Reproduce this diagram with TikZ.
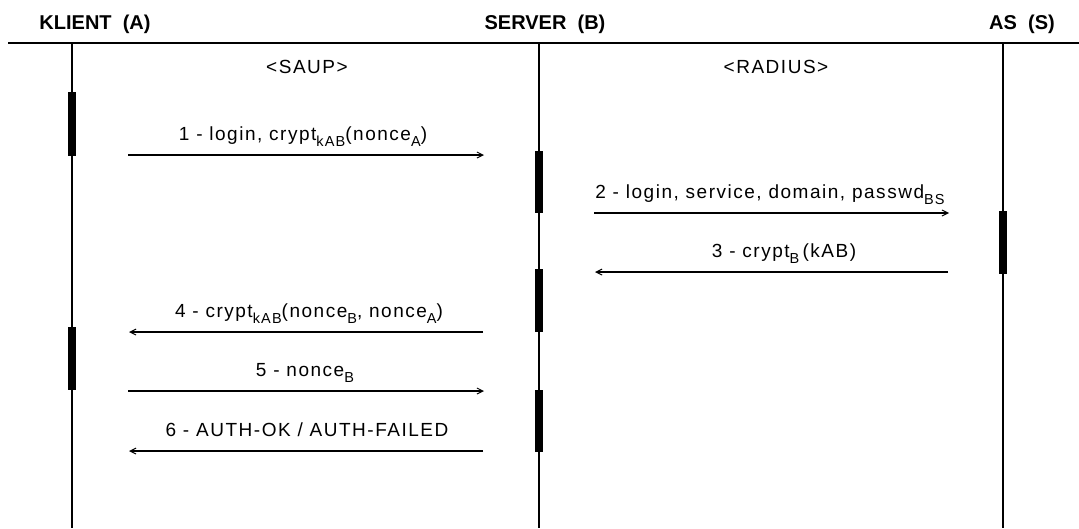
\documentclass[tikz,border=0pt]{standalone}
\usepackage{fontspec}
\setmainfont{Liberation Sans}
\newfontfamily\lblfont[LetterSpace=8]{Liberation Sans}
\usetikzlibrary{arrows.meta}
\newcommand{\sbs}[1]{\raisebox{-6pt}{\fontsize{14.5}{14}\selectfont #1}}
\tikzset{
  life/.style={line width=1.3pt},
  act/.style={fill=black, draw=none},
  msg/.style={line width=1.1pt, -{Straight Barb[length=6pt,width=6pt,line width=1pt]}},
  lbl/.style={font=\lblfont\fontsize{19}{22}\selectfont, inner sep=0pt, anchor=base},
  hdr/.style={font=\fontsize{20}{22}\selectfont\bfseries, inner sep=0pt, anchor=base},
}
\begin{document}
\begin{tikzpicture}[x=1pt,y=-1pt]
\useasboundingbox (0,0) rectangle (1079,528);
% headers
\node[hdr] (hA) at (95,29) {KLIENT\ \ (A)};
\node[hdr] (hB) at (545,29) {SERVER\ \ (B)};
\node[hdr] (hS) at (1022,29) {AS\ \ (S)};
\coordinate (hl) at (8,43);
\coordinate (hr) at (1079,43);
\draw[life] (hl) -- (hr);
% lifelines
\coordinate (At) at (72,43); \coordinate (Ab) at (72,528);
\coordinate (Bt) at (539,43); \coordinate (Bb) at (539,528);
\coordinate (St) at (1003,43); \coordinate (Sb) at (1003,528);
\draw[life] (At) -- (Ab);
\draw[life] (Bt) -- (Bb);
\draw[life] (St) -- (Sb);
% activation bars
\fill[act] (68,92) rectangle (76,156);
\fill[act] (68,327) rectangle (76,390);
\fill[act] (535,151) rectangle (543,213);
\fill[act] (535,269) rectangle (543,332);
\fill[act] (535,390) rectangle (543,452);
\fill[act] (999,211) rectangle (1007,274);
% protocol labels
\node[lbl] (saup) at (307,73) {<SAUP>};
\node[lbl] (rad) at (776,73) {<RADIUS>};
% messages
\coordinate (m1a) at (128,155); \coordinate (m1b) at (484,155);
\coordinate (m2a) at (594,213); \coordinate (m2b) at (949,213);
\coordinate (m3a) at (948,272); \coordinate (m3b) at (595,272);
\coordinate (m4a) at (483,332); \coordinate (m4b) at (129,332);
\coordinate (m5a) at (128,391); \coordinate (m5b) at (484,391);
\coordinate (m6a) at (483,451); \coordinate (m6b) at (129,451);
\draw[msg] (m1a) -- (m1b);
\draw[msg] (m2a) -- (m2b);
\draw[msg] (m3a) -- (m3b);
\draw[msg] (m4a) -- (m4b);
\draw[msg] (m5a) -- (m5b);
\draw[msg] (m6a) -- (m6b);
\node[lbl] (l1) at (303,140) {1 - login,\ crypt\sbs{kAB}(nonce\sbs{A})};
\node[lbl] (l2) at (770,198) {2 - login, service, domain, passwd\sbs{BS}};
\node[lbl] (l3) at (784,257) {3 - crypt\sbs{B}\,(kAB)};
\node[lbl] (l4) at (309,317) {4 - crypt\sbs{kAB}(nonce\sbs{B}, nonce\sbs{A})};
\node[lbl] (l5) at (305,376) {5 - nonce\sbs{B}};
\node[lbl] (l6) at (307,436) {6 - AUTH-OK / AUTH-FAILED};
\end{tikzpicture}
\end{document}
